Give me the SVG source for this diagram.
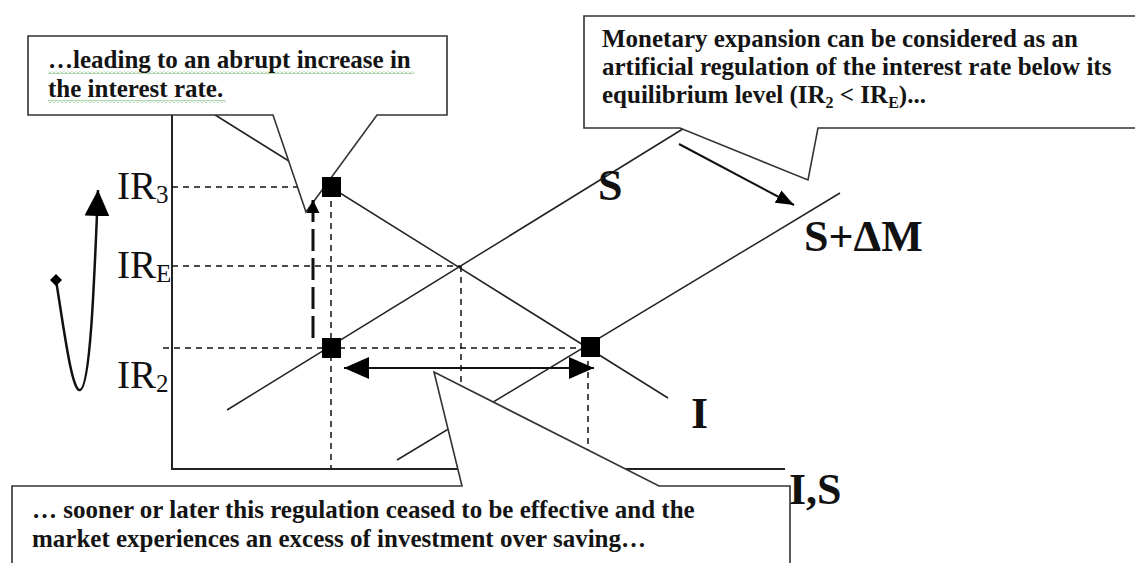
<svg xmlns="http://www.w3.org/2000/svg" width="1135" height="563" viewBox="0 0 1135 563">
  <style>
    .axis { stroke: #222; stroke-width: 2; fill: none; }
    .curve { stroke: #222; stroke-width: 1.5; fill: none; }
    .guide { stroke: #111; stroke-width: 1.5; stroke-dasharray: 6 5; fill: none; }
    .callout { fill: #fff; stroke: #333; stroke-width: 1.6; }
    .note { font-family: "Liberation Serif", "Times New Roman", serif; font-weight: bold; font-size: 25px; fill: #141414; }
    .lbl { font-family: "Liberation Serif", "Times New Roman", serif; font-size: 39px; fill: #111; }
    .big { font-family: "Liberation Serif", "Times New Roman", serif; font-weight: bold; font-size: 44px; fill: #111; }
    .pt { fill: #000; }
  </style>
  <defs>
    <marker id="headBig" markerUnits="userSpaceOnUse" markerWidth="26" markerHeight="24" refX="25" refY="11" orient="auto-start-reverse">
      <path d="M0,0 L25,11 L0,22 z" fill="#000"/>
    </marker>
    <marker id="headSmall" markerUnits="userSpaceOnUse" markerWidth="14" markerHeight="14" refX="13" refY="6.5" orient="auto">
      <path d="M0,0 L13,6.5 L0,13 z" fill="#000"/>
    </marker>
    <marker id="headS" markerUnits="userSpaceOnUse" markerWidth="20" markerHeight="16" refX="18" refY="7" orient="auto">
      <path d="M0,0 L18,7 L0,14 z" fill="#000"/>
    </marker>
    <marker id="headCurve" markerUnits="userSpaceOnUse" markerWidth="28" markerHeight="26" refX="26" refY="12.5" orient="auto">
      <path d="M0,0 L26,12.5 L0,25 z" fill="#000"/>
    </marker>
    <marker id="diamond" markerUnits="userSpaceOnUse" markerWidth="14" markerHeight="14" refX="7" refY="7" orient="0">
      <path d="M7,1 L13,7 L7,13 L1,7 z" fill="#000"/>
    </marker>
    <pattern id="squiggle" patternUnits="userSpaceOnUse" width="4" height="3">
      <path d="M0,2.5 L2,0.5 L4,2.5" stroke="#3c9a3c" stroke-width="0.8" fill="none"/>
    </pattern>
  </defs>

  <!-- axes, curves and guide lines -->
  <g id="connectors">
    <!-- axes -->
    <line class="axis" x1="172" y1="112" x2="172" y2="469"/>
    <line class="axis" x1="171" y1="469" x2="785" y2="469"/>
    <!-- investment curve I -->
    <line class="curve" x1="212" y1="113" x2="668" y2="398"/>
    <!-- saving curve S -->
    <line class="curve" x1="227" y1="410" x2="686" y2="127"/>
    <!-- shifted saving curve S+dM -->
    <line class="curve" x1="397" y1="460" x2="840" y2="193"/>
    <!-- dashed guides -->
    <line class="guide" x1="172" y1="187" x2="310" y2="187"/>
    <line class="guide" x1="172" y1="266" x2="460" y2="266"/>
    <line class="guide" x1="163" y1="348" x2="590" y2="348"/>
    <line class="guide" x1="331" y1="190" x2="331" y2="468"/>
    <line class="guide" x1="461" y1="266" x2="461" y2="400"/>
    <line class="guide" x1="588" y1="350" x2="588" y2="468"/>
  </g>

  <!-- callout boxes -->
  <g id="note-increase">
    <path class="callout" d="M28,36 H447 V115 H377 L306,212 L273,115 H28 Z"/>
    <rect x="48" y="71" width="366" height="3" fill="url(#squiggle)"/>
    <rect x="48" y="100" width="178" height="3" fill="url(#squiggle)"/>
    <text class="note" x="48" y="68">…leading to an abrupt increase in</text>
    <text class="note" x="48" y="97">the interest rate.</text>
  </g>
  <g id="note-expansion">
    <path class="callout" d="M584,16 H1145 V128 H818 L808,180 L680,128 H584 Z"/>
    <text class="note" x="602" y="47">Monetary expansion can be considered as an</text>
    <text class="note" x="602" y="75">artificial regulation of the interest rate below its</text>
    <text class="note" x="602" y="103">equilibrium level (IR<tspan font-size="16" dy="5">2</tspan><tspan dy="-5"> &lt; IR</tspan><tspan font-size="16" dy="5">E</tspan><tspan dy="-5">)...</tspan></text>
  </g>
  <g id="note-excess">
    <path class="callout" d="M12,486 H462 L434,372 L659,486 H790 V600 H12 Z"/>
    <text class="note" x="32" y="518">… sooner or later this regulation ceased to be effective and the</text>
    <text class="note" x="32" y="547">market experiences an excess of investment over saving…</text>
  </g>

  <!-- rate points and arrows -->
  <g id="points">
    <rect class="pt" x="322" y="177" width="19" height="20"/>
    <rect class="pt" x="322" y="338" width="19" height="20"/>
    <rect class="pt" x="581" y="337" width="19" height="20"/>
  </g>
  <g id="arrows">
    <line x1="344" y1="368" x2="594" y2="368" stroke="#111" stroke-width="2" marker-start="url(#headBig)" marker-end="url(#headBig)"/>
    <line x1="313" y1="338" x2="313" y2="200" stroke="#111" stroke-width="3" stroke-dasharray="22 7" marker-end="url(#headSmall)"/>
    <line x1="679" y1="144" x2="794" y2="205" stroke="#111" stroke-width="2" marker-end="url(#headS)"/>
    <path d="M56,280 C64,330 72,392 80,390 C90,388 94,290 98,190" fill="none" stroke="#111" stroke-width="2.5" marker-start="url(#diamond)" marker-end="url(#headCurve)"/>
  </g>

  <!-- axis and curve labels -->
  <g id="labels">
    <text class="lbl" x="117" y="199">IR<tspan font-size="25" dy="4">3</tspan></text>
    <text class="lbl" x="117" y="278">IR<tspan font-size="25" dy="4">E</tspan></text>
    <text class="lbl" x="117" y="388">IR<tspan font-size="25" dy="4">2</tspan></text>
    <text class="big" x="598" y="200">S</text>
    <text class="big" x="804" y="251">S+ΔM</text>
    <text class="big" x="691" y="428">I</text>
    <text class="big" x="789" y="504">I,S</text>
  </g>
</svg>
